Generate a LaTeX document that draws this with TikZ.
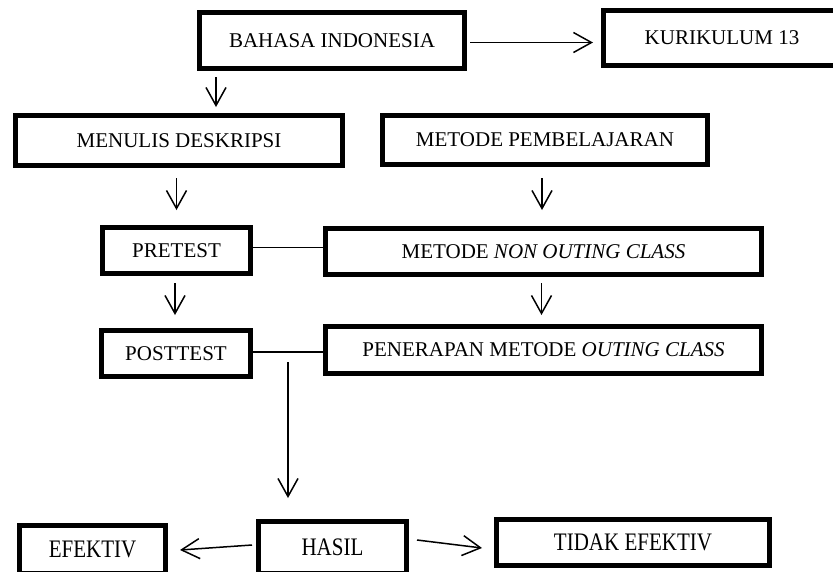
\documentclass[tikz,border=0pt]{standalone}
\usepackage{graphicx}
\usepackage{fontspec}
\setmainfont{Liberation Serif}
\usetikzlibrary{arrows.meta,calc}
\begin{document}
\begin{tikzpicture}[x=1pt,y=-1pt,
  box/.style={draw,line width=5pt,inner sep=0pt,outer sep=2.5pt,align=center,
    font=\fontsize{21}{25}\selectfont},
  arr/.style={line width=1.5pt,-{Straight Barb[length=18pt,width=20pt]}},
  link/.style={line width=1.5pt}]
\useasboundingbox (0,0) rectangle (833,571);
\node[box,minimum width=265pt,minimum height=56pt] (bahasa) at (332,40.5) {BAHASA INDONESIA};
\node[box,minimum width=237pt,minimum height=55pt] (kur) at (722,38) {KURIKULUM 13};
\node[box,minimum width=327pt,minimum height=50pt] (menulis) at (179,140.5) {MENULIS DESKRIPSI};
\node[box,minimum width=325pt,minimum height=49pt] (metpemb) at (545,140) {METODE PEMBELAJARAN};
\node[box,minimum width=148pt,minimum height=46pt] (pretest) at (176.5,250.5) {PRETEST};
\node[box,minimum width=436pt,minimum height=46pt] (nonout) at (543.5,251.5) {METODE \textit{NON OUTING CLASS}};
\node[box,minimum width=149pt,minimum height=46pt] (postt) at (176,353.5) {POSTTEST};
\node[box,minimum width=436pt,minimum height=47pt] (pener) at (543.5,350) {PENERAPAN METODE \textit{OUTING CLASS}};
\node[box,minimum width=148pt,minimum height=52pt] (hasil) at (332.5,547.5) {\scalebox{1}[1.2]{HASIL}};
\node[box,minimum width=146pt,minimum height=48pt] (efektiv) at (92.5,549.5) {\scalebox{1}[1.2]{EFEKTIV}};
\node[box,minimum width=273pt,minimum height=46pt] (tidak) at (633,542.5) {\scalebox{1}[1.2]{TIDAK EFEKTIV}};
\coordinate (vstart) at (288,362);
\draw[arr] ($(bahasa.east)+(3,2)$) -- ($(bahasa.east -| kur.west)+(-8,2)$);
\draw[arr] ($(bahasa.south west)+(19,6)$) -- ($(bahasa.south west)+(19,36)$);
\draw[arr] ($(pretest.north)+(0,-47)$) -- ($(pretest.north)+(0,-15)$);
\draw[arr] ($(nonout.north)+(-1.5,-48)$) -- ($(nonout.north)+(-1.5,-16)$);
\draw[link] ($(pretest.east)+(0,-3)$) -- ($(pretest.east -| nonout.west)+(0,-3)$);
\draw[arr] ($(postt.north)+(-1,-45)$) -- ($(postt.north)+(-1,-13)$);
\draw[arr] ($(pener.north)+(-2,-41)$) -- ($(pener.north)+(-2,-9)$);
\draw[link] ($(postt.east)+(0,-1.5)$) -- ($(postt.east -| pener.west)+(0,-1.5)$);
\draw[arr] (vstart) -- ($(vstart |- hasil.north)+(0,-21)$);
\draw[arr] ($(hasil.west)+(-4,-2.5)$) -- ($(efektiv.east)+(12,0.5)$);
\draw[arr] ($(hasil.east)+(8,-7.5)$) -- ($(tidak.west)+(-12,5.5)$);
\end{tikzpicture}
\end{document}
